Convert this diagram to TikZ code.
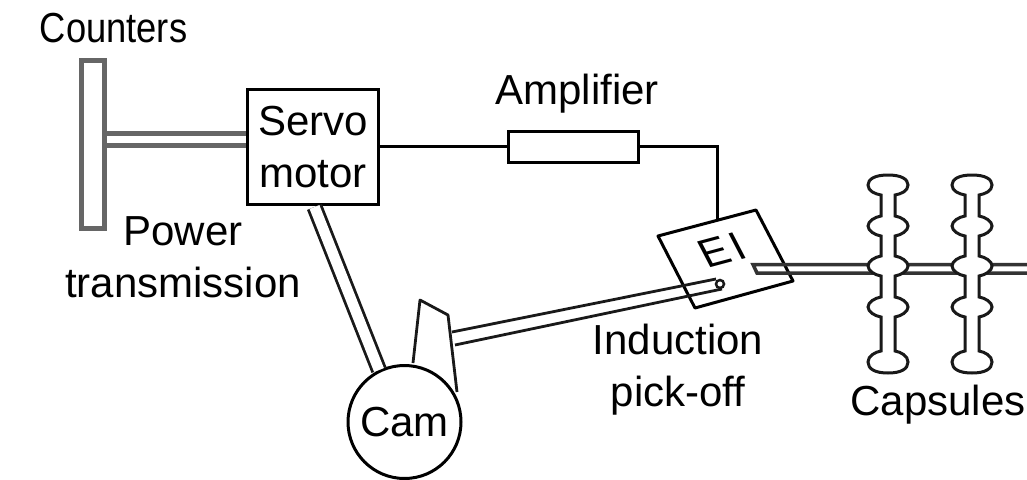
\documentclass[tikz,border=0pt]{standalone}
\usepackage{graphicx}
\usepackage{fontspec}
\setmainfont{Liberation Sans}
\newcommand{\capoutline}{(0,175) .. controls (13,175) and (20,179) .. (20,185) .. controls (20,191) and (13,194) .. (7,195) -- (7,216) .. controls (13,217) and (20,221) .. (20,226) .. controls (20,231) and (13,235) .. (7,236) -- (7,256) .. controls (13,257) and (20,261) .. (20,266) .. controls (20,271) and (13,275) .. (7,276) -- (7,297) .. controls (13,298) and (20,302) .. (20,307) .. controls (20,312) and (13,316) .. (7,317) -- (7,351) .. controls (13,352) and (20,356) .. (20,362) .. controls (20,369) and (13,373) .. (0,373) .. controls (-13,373) and (-20,369) .. (-20,362) .. controls (-20,356) and (-13,352) .. (-7,351) -- (-7,317) .. controls (-13,316) and (-20,312) .. (-20,307) .. controls (-20,302) and (-13,298) .. (-7,297) -- (-7,276) .. controls (-13,275) and (-20,271) .. (-20,266) .. controls (-20,261) and (-13,257) .. (-7,256) -- (-7,236) .. controls (-13,235) and (-20,231) .. (-20,226) .. controls (-20,221) and (-13,217) .. (-7,216) -- (-7,195) .. controls (-13,194) and (-20,191) .. (-20,185) .. controls (-20,179) and (-13,175) .. (0,175) -- cycle}
\tikzset{
  every node/.style={inner sep=0pt,outer sep=0pt},
  lab/.style={font=\fontsize{42}{52}\selectfont,align=center,text=black},
  part/.style={draw=black,line width=3pt,fill=white},
  wire/.style={draw=black,line width=3pt},
  shaftgray/.style={draw=black!60,line width=5pt},
  thin part/.style={draw=black!90,line width=2.8pt},
  capsule/.style={draw=black!90,line width=3pt,fill=white}
}
\begin{document}
\begin{tikzpicture}[x=1pt,y=-1pt]
\useasboundingbox (0,0) rectangle (1027,479);
\node[draw=black!60,line width=5pt,fill=white,minimum width=23pt,minimum height=168pt] (counter) at (92.5,144) {};
\node[part,minimum width=131pt,minimum height=115pt,lab] (servo) at (313,147) {\raisebox{1pt}{Servo}\\\raisebox{1pt}{motor}};
\coordinate (servoA) at (106,133);
\coordinate (servoB) at (246,133);
\coordinate (servoC) at (106,145);
\coordinate (servoD) at (246,145);
\draw[shaftgray] (servoA) -- (servoB);
\draw[shaftgray] (servoC) -- (servoD);
\node[part,minimum width=130pt,minimum height=31pt] (amp) at (573.5,146.5) {};
\draw[wire] (servo.east |- amp.west) -- (amp.west);
% cam
\node[draw=black,line width=3pt,circle,minimum size=113pt,lab] (cam) at (404.5,422) {Cam};
\coordinate (beltTop) at (314.5,207);
\coordinate (beltCam) at (379,370);
\draw[double=white,draw=black!90,line width=2.8pt,double distance=10.5pt] (beltTop) -- (beltCam);
\coordinate (lobeA) at (413,363);
\coordinate (lobeB) at (420,300);
\coordinate (lobeC) at (448,315);
\coordinate (lobeD) at (457,392);
\draw[thin part,line join=round] (lobeA) -- (lobeB) -- (lobeC) -- (lobeD);
% EI block (a slanted parallelogram)
\coordinate (eiA) at (658,236);
\coordinate (eiB) at (756,210);
\coordinate (eiC) at (793,281);
\coordinate (eiD) at (695,308);
\draw[part,line join=round] (eiA) -- (eiB) -- (eiC) -- (eiD) -- cycle;
\node[lab,cm={.966,.259,-.46,.887,(0,0)}] (eitext) at (722,250) {E\kern5pt I};
\coordinate (eitap) at (717,220);
\draw[wire] (amp.east) -| (eitap);
% arm
\coordinate (armA) at (452,332);
\coordinate (armB) at (716,279);
\coordinate (armC) at (722,289);
\coordinate (armD) at (455,345);
\draw[thin part] (armA) -- (armB);
\draw[thin part] (armD) -- (armC);
\node[draw=black!90,line width=2.5pt,circle,fill=white,minimum size=8pt] (tip) at (720,284) {};
% capsule shaft
\coordinate (sA) at (753,264.5);
\coordinate (sB) at (757,273);
\coordinate (sC) at (1027,264.5);
\coordinate (sD) at (1027,273);
\draw[draw=black!80,line width=3.5pt] (sC) -- (sA) -- (sB) -- (sD);
% capsules
\begin{scope}[shift={(888,0)}]
\draw[capsule] \capoutline;
\end{scope}
\begin{scope}[shift={(972,0)}]
\draw[capsule] \capoutline;
\end{scope}
% labels
\node[lab] (tcounters) at (113.5,28) {\scalebox{0.865}[1]{Counters}};
\node[lab] (tamp) at (577,94) {Amplifier};
\node[lab] (tpower) at (183,257) {Power\\transmission};
\node[lab] (tpick) at (678,370) {Induction\\pick-off};
\node[lab] (tcaps) at (938,405) {Capsules};
\end{tikzpicture}
\end{document}
